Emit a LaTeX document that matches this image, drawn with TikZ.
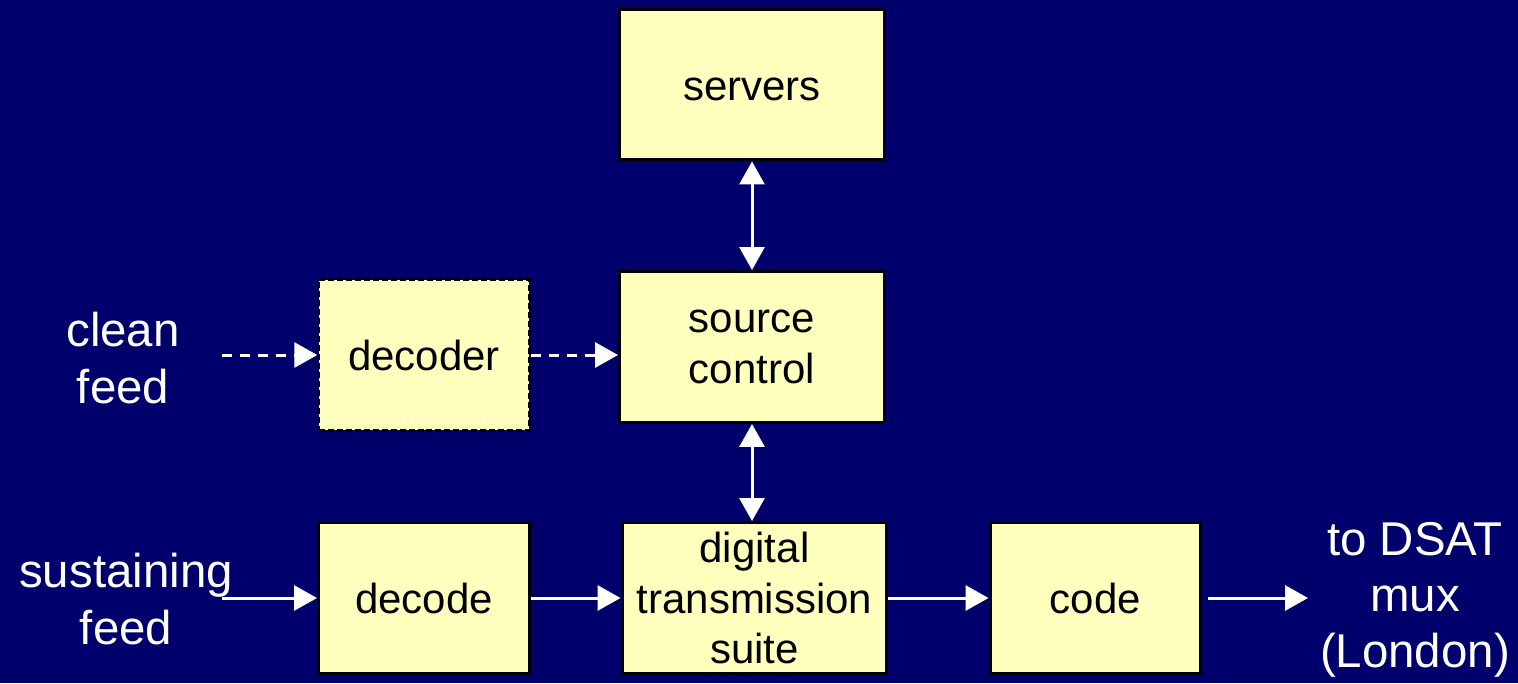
\documentclass[tikz,border=0pt]{standalone}
\usepackage{fontspec}
\setmainfont{Liberation Sans}
\usetikzlibrary{arrows.meta}

\definecolor{navybg}{RGB}{0,0,108}
\definecolor{boxfill}{RGB}{255,255,190}

\begin{document}
\begin{tikzpicture}[x=0.02cm, y=-0.02cm,
	box/.style={rectangle, draw=black, line width=0.06cm, fill=boxfill, align=center, inner sep=0pt,
		minimum width=5.3cm, minimum height=3.02cm, font=\fontsize{23.9}{28.6}\selectfont,
		execute at begin node={\rule{0pt}{0.75em}}},
	narrowbox/.style={box, minimum width=4.22cm},
	lbl/.style={text=white, align=center, inner sep=0pt, font=\fontsize{27}{32}\selectfont},
	arr/.style={draw=white, line width=0.06cm, -{Triangle[length=0.46cm, width=0.5cm]}},
	darr/.style={arr, {Triangle[length=0.46cm, width=0.5cm]}-{Triangle[length=0.46cm, width=0.5cm]}},
	dashedarr/.style={arr, dash pattern=on 0.2cm off 0.16cm}]
				\fill[navybg] (0,0) rectangle (1518,683);
				
				\node[box] (servers) at (752,84.5) {servers};
				\node[box] (source) at (752,347) {source\\control};
				\node[narrowbox, line width=0.05cm, dash pattern=on 0.12cm off 0.06cm] (decoder) at (424,355) {decoder};
				\node[narrowbox] (decode) at (424,598) {decode};
				\node[box] (dts) at (754.5,598) {digital\\transmission\\suite};
				\node[narrowbox] (code) at (1095.5,598) {code};
				
				\node[lbl] (clean) at (123,358) {clean\\feed};
				\node[lbl] (sustain) at (126,599) {sustaining\\feed};
				\node[lbl] (dsat) at (1415,600) {to DSAT\\mux\\(London)};
				
				\coordinate (cleanin) at (222,355);
				\coordinate (sustin) at (222,598);
				\coordinate (dsatin) at (1308,598);
				
				\path[darr] (servers) -- (source);
				\path[darr] (source) -- (source |- dts.north);
				\path[dashedarr] (cleanin) -- (decoder);
				\path[dashedarr] (decoder) -- (decoder -| source.west);
				\path[arr] (sustin) -- (decode);
				\path[arr] (decode) -- (dts);
				\path[arr] (dts) -- (code);
				\path[arr, shorten <=0.12cm] (code) -- (dsatin);
				\end{tikzpicture}
\end{document}
